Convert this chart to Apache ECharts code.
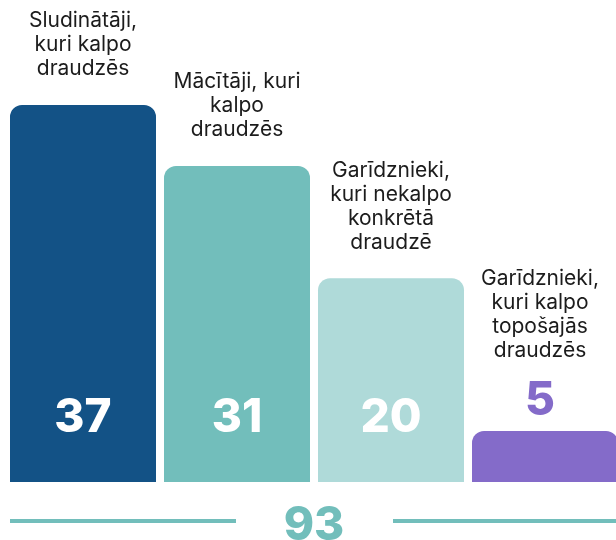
<!DOCTYPE html>
<html>
<head>
<meta charset="utf-8">
<script src="https://cdn.jsdelivr.net/npm/echarts@6/dist/echarts.min.js"></script>
<style>
  html, body { margin: 0; padding: 0; background: #fff; overflow: hidden; }
  #wrap { width: 616px; height: 540px; overflow: hidden; }
  #chart { width: 630px; height: 540px; }
</style>
</head>
<body>
<div id="wrap"><div id="chart"></div></div>
<script>
// dati
const categories = [
  "Sludinātāji,\nkuri kalpo\ndraudzēs",
  "Mācītāji, kuri\nkalpo\ndraudzēs",
  "Garīdznieki,\nkuri nekalpo\nkonkrētā\ndraudzē",
  "Garīdznieki,\nkuri kalpo\ntopošajās\ndraudzēs"
];
const values = [37, 31, 20, 5];
const colors = ["#135286", "#72bebb", "#afdad9", "#846bc9"];

const total = values.reduce((a, b) => a + b, 0);
const FONT = "Inter, 'Noto Sans', sans-serif";

let chart = echarts.init(document.getElementById("chart"));

// galvenās joslas ar nosaukumiem virs tām
let barData = values.map((v, i) => {
  let small = v < 10; // mazai vērtībai skaitlis virs joslas
  let lines = categories[i].split("\n").map(s => "{n|" + s + "}");
  if (small) lines.push("{v|" + v + "}");
  return {
    value: v,
    itemStyle: { color: colors[i] },
    label: {
      distance: small ? -8 : 24,
      offset: small ? [-5, 0] : [0, 0],
      formatter: lines.join("\n"),
      rich: {
        n: { fontSize: 21, lineHeight: 24, color: "#1c1c1c", fontFamily: FONT },
        v: { fontSize: 46, lineHeight: 76, fontWeight: 800, color: colors[i], fontFamily: FONT }
      }
    }
  };
});

// caurspīdīga kārta vērtībām joslu iekšpusē
let valueData = values.map((v) => ({
  value: v,
  label: { show: v >= 10 }
}));

let option = {
  animation: false,
  grid: { left: 6, top: 0, width: 616, height: 482 },
  xAxis: {
    type: "category",
    data: categories,
    show: false
  },
  yAxis: {
    type: "value",
    min: 0,
    max: 47.3,
    show: false
  },
  series: [
    {
      type: "bar",
      data: barData,
      barWidth: 146,
      itemStyle: { borderRadius: [12, 12, 0, 0] },
      label: { show: true, position: "top", align: "center" }
    },
    {
      type: "bar",
      data: valueData,
      barWidth: 146,
      barGap: "-100%",
      silent: true,
      itemStyle: { color: "transparent" },
      label: {
        position: "insideBottom",
        distance: 41,
        color: "#fff",
        fontSize: 46,
        fontWeight: 800,
        fontFamily: FONT
      }
    }
  ],
  graphic: [
    {
      type: "line",
      shape: { x1: 10, y1: 521, x2: 236, y2: 521 },
      style: { stroke: "#72bebb", lineWidth: 4 }
    },
    {
      type: "line",
      shape: { x1: 393, y1: 521, x2: 616, y2: 521 },
      style: { stroke: "#72bebb", lineWidth: 4 }
    },
    {
      type: "text",
      x: 314,
      y: 526,
      style: {
        text: String(total),
        fill: "#72bebb",
        font: "800 46px " + FONT,
        textAlign: "center",
        textVerticalAlign: "middle"
      }
    }
  ]
};

chart.setOption(option);
</script>
</body>
</html>
